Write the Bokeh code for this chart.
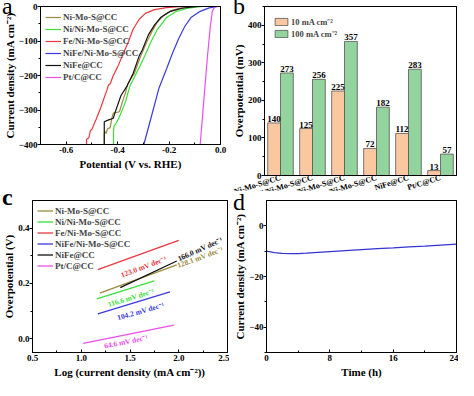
from bokeh.plotting import figure
from bokeh.layouts import row, column
from bokeh.models import (FixedTicker, NumeralTickFormatter, Label, LabelSet, ColumnDataSource,
                          LinearAxis, Div)
from bokeh.transform import dodge
from bokeh.embed import file_html
from bokeh.resources import INLINE

FONT = "Liberation Serif"

samples = ["Ni-Mo-S@CC", "Ni/Ni-Mo-S@CC", "Fe/Ni-Mo-S@CC", "NiFe/Ni-Mo-S@CC", "NiFe@CC", "Pt/C@CC"]
line_colors = ["#9C8A3E", "#3ADF3A", "#E8383F", "#3A3ADF", "#121212", "#EC4EEC"]

# ---------------- (a) LSV polarisation curves ----------------
v_nimos = [-0.08, -0.12, -0.16, -0.19, -0.22, -0.245, -0.265, -0.285, -0.31, -0.335, -0.361, -0.369,
           -0.381, -0.393, -0.417, -0.423, -0.429, -0.44, -0.445, -0.45, -0.452, -0.452]
j_nimos = [0, -1, -5, -12, -25, -45, -70, -100, -143, -194, -224, -249,
           -275, -305, -309, -326, -351, -355, -368, -362, -370, -400]
v_ni = [-0.07, -0.127, -0.174, -0.21, -0.245, -0.269, -0.292, -0.316, -0.352, -0.363, -0.369,
        -0.387, -0.397, -0.407, -0.414, -0.416, -0.416]
j_ni = [0, -5, -15, -32, -66, -100, -139, -177, -230, -258, -275,
        -309, -326, -340, -347, -360, -400]
v_fe = [-0.15, -0.21, -0.257, -0.292, -0.316, -0.340, -0.357, -0.384, -0.40, -0.417, -0.429, -0.436,
        -0.441, -0.453, -0.465, -0.483, -0.488, -0.500, -0.506, -0.512, -0.518, -0.521, -0.521]
j_fe = [0, -3, -9, -20, -37, -66, -100, -147, -175, -200, -224, -228,
        -241, -266, -292, -326, -334, -356, -360, -381, -383, -385, -400]
v_nife_nimos = [-0.01, -0.044, -0.079, -0.115, -0.139, -0.162, -0.186, -0.21, -0.239, -0.262, -0.298]
j_nife_nimos = [0, -4, -14, -32, -58, -92, -134, -181, -236, -300, -400]
v_nife = [-0.09, -0.15, -0.198, -0.233, -0.257, -0.281, -0.304, -0.316, -0.340, -0.363, -0.387,
          -0.411, -0.417, -0.44, -0.452, -0.452]
j_nife = [0, -5, -15, -32, -54, -83, -126, -143, -194, -230, -258,
          -309, -324, -330, -334, -400]
v_ptc = [-0.018, -0.026, -0.032, -0.04, -0.05, -0.061, -0.07, -0.079]
j_ptc = [0, -5, -15, -60, -140, -236, -320, -400]

lsv_v = [v_nimos, v_ni, v_fe, v_nife_nimos, v_nife, v_ptc]
lsv_j = [j_nimos, j_ni, j_fe, j_nife_nimos, j_nife, j_ptc]

# ---------------- (b) overpotentials ----------------
eta_10 = [140, 125, 225, 72, 112, 13]
eta_100 = [273, 256, 357, 182, 283, 57]
bar_legend = ["10 mA cm\u207b\u00b2", "100 mA cm\u207b\u00b2"]

# ---------------- (c) Tafel fits ----------------
tafel_x = [[1.19, 1.98], [1.16, 1.75], [1.17, 2.0], [1.17, 1.91], [1.40, 1.98], [1.02, 1.95]]
tafel_y = [[0.165, 0.267], [0.144, 0.209], [0.25, 0.356], [0.09, 0.169], [0.185, 0.281], [-0.017, 0.049]]
tafel_slope = ["128.1", "116.6", "123.0", "104.2", "166.0", "64.6"]
tafel_label_x = [2.22, 1.51, 1.64, 1.61, 2.22, 1.46]
tafel_label_y = [0.294, 0.148, 0.26, 0.099, 0.324, -0.011]
tafel_label_angle = [0.35, 0.29, 0.36, 0.27, 0.42, 0.2]

# ---------------- (d) stability ----------------
stab_t = [0, 1, 2, 3, 4, 5, 6, 8, 10, 12, 14, 16, 18, 20, 22, 24]
stab_j = [-10.0, -10.6, -10.9, -11.0, -10.95, -10.8, -10.6, -10.2, -9.8, -9.4, -9.0, -8.7, -8.3, -8.0, -7.6, -7.2]

panel_letters = ["a", "b", "c", "d"]


def frame_box(p):
    p.add_layout(LinearAxis(ticker=FixedTicker(ticks=[]), axis_line_color="black",
                            major_label_standoff=0, axis_label_standoff=0), "right")
    p.add_layout(LinearAxis(ticker=FixedTicker(ticks=[]), axis_line_color="black",
                            major_label_standoff=0, axis_label_standoff=0), "above")


def style(p, xlabel, ylabel):
    p.grid.visible = False
    p.outline_line_color = "black"
    p.outline_line_alpha = 1
    p.outline_line_width = 1
    p.background_fill_color = "white"
    p.border_fill_color = "white"
    for ax in (p.xaxis[0], p.yaxis[0]):
        ax.axis_line_color = "black"
        ax.major_label_text_font = FONT
        ax.major_label_text_font_style = "bold"
        ax.major_label_text_font_size = "9px"
        ax.major_label_text_color = "black"
        ax.axis_label_text_font = FONT
        ax.axis_label_text_font_style = "bold"
        ax.axis_label_text_font_size = "11px"
        ax.axis_label_text_color = "black"
        ax.major_tick_line_color = "black"
        ax.minor_tick_line_color = "black"
    p.xaxis[0].axis_label = xlabel
    p.yaxis[0].axis_label = ylabel
    p.xaxis[0].major_tick_in = 3
    p.xaxis[0].major_tick_out = 0
    p.xaxis[0].minor_tick_in = 2
    p.xaxis[0].minor_tick_out = 0
    p.yaxis[0].major_tick_in = 0
    p.yaxis[0].major_tick_out = 3
    p.yaxis[0].minor_tick_in = 0
    p.yaxis[0].minor_tick_out = 2
    p.xaxis[0].major_label_standoff = 2
    p.yaxis[0].major_label_standoff = 0
    p.xaxis[0].axis_label_standoff = 2
    p.yaxis[0].axis_label_standoff = 0


def style_legend(p, row_h, size="9px"):
    lg = p.legend[0]
    lg.location = "top_left"
    lg.background_fill_alpha = 0
    lg.border_line_alpha = 0
    lg.label_text_font = FONT
    lg.label_text_font_style = "bold"
    lg.label_text_font_size = size
    lg.glyph_width = 16
    lg.glyph_height = row_h
    lg.label_height = row_h
    lg.spacing = 0
    lg.padding = 2
    lg.margin = 3
    lg.label_standoff = 2


def letter_div(txt, bold, prev_right, left, top):
    w = 30
    weight = "bold" if bold else "normal"
    html = ('<div style="font-family:\'Liberation Serif\';font-size:24px;line-height:27px;'
            'padding-top:1px;color:black;font-weight:%s;">%s</div>' % (weight, txt))
    ml = left - prev_right
    return Div(text=html, width=w, height=34, margin=(top, -(ml + w), 0, ml))


# ---- panel a ----
pa = figure(width=229, height=190, x_range=(-0.7, 0.0), y_range=(-400, 0),
            output_backend="svg", toolbar_location=None,
            min_border_left=28, min_border_right=9, min_border_top=4, min_border_bottom=28)
for name, col, vv, jj in zip(samples, line_colors, lsv_v, lsv_j):
    pa.line(vv, jj, line_color=col, line_width=1.2, legend_label=name)
style(pa, "Potential (V vs. RHE)", "Current density (mA cm\u207b\u00b2)")
pa.xaxis[0].ticker = FixedTicker(ticks=[-0.6, -0.4, -0.2, 0.0], minor_ticks=[-0.7, -0.5, -0.3, -0.1])
pa.xaxis[0].formatter = NumeralTickFormatter(format="0.0")
pa.yaxis[0].ticker = FixedTicker(ticks=[0, -100, -200, -300, -400], minor_ticks=[-50, -150, -250, -350])
frame_box(pa)
style_legend(pa, 12)

# ---- panel b ----
pb = figure(width=229, height=221, x_range=samples, y_range=(0, 450),
            output_backend="svg", toolbar_location=None,
            min_border_left=35, min_border_right=2, min_border_top=6, min_border_bottom=46)
src_b = ColumnDataSource(dict(cat=samples, e10=eta_10, e100=eta_100,
                              t10=[str(v) for v in eta_10], t100=[str(v) for v in eta_100]))
pb.vbar(x=dodge("cat", -0.2, range=pb.x_range), top="e10", width=0.4, source=src_b,
        fill_color="#FBC7A0", line_color="#555555", line_width=0.8, legend_label=bar_legend[0])
pb.vbar(x=dodge("cat", 0.2, range=pb.x_range), top="e100", width=0.4, source=src_b,
        fill_color="#93D39E", line_color="#555555", line_width=0.8, legend_label=bar_legend[1])
for fld, off in (("10", -0.2), ("100", 0.2)):
    pb.add_layout(LabelSet(x=dodge("cat", off, range=pb.x_range), y="e" + fld, text="t" + fld,
                           source=src_b, text_align="center", text_baseline="bottom", y_offset=1,
                           text_font=FONT, text_font_style="bold", text_font_size="9px",
                           text_color="black"))
style(pb, "", "Overpotential (mV)")
pb.xaxis[0].axis_label = None
pb.xaxis[0].major_label_orientation = 0.3
pb.xaxis[0].major_label_text_font_size = "8px"
pb.xaxis[0].major_label_standoff = 2
pb.xaxis[0].major_tick_in = 0
pb.xaxis[0].major_tick_out = 0
pb.yaxis[0].ticker = FixedTicker(ticks=[0, 100, 200, 300, 400], minor_ticks=[50, 150, 250, 350, 450])
frame_box(pb)
style_legend(pb, 12, "8.5px")
pb.legend[0].glyph_height = 9
pb.legend[0].margin = 6
pb.legend[0].padding = 3

# ---- panel c ----
pc = figure(width=229, height=190, x_range=(0.5, 2.5), y_range=(-0.05, 0.5),
            output_backend="svg", toolbar_location=None,
            min_border_left=22, min_border_right=2, min_border_top=10, min_border_bottom=28)
for name, col, xx, yy in zip(samples, line_colors, tafel_x, tafel_y):
    pc.line(xx, yy, line_color=col, line_width=1.3, legend_label=name)
for col, s, lx, ly, la in zip(line_colors, tafel_slope, tafel_label_x, tafel_label_y, tafel_label_angle):
    pc.add_layout(Label(x=lx, y=ly, text=s + " mV dec\u207b\u00b9", angle=la, text_align="center",
                        text_baseline="middle", text_font=FONT, text_font_style="bold",
                        text_font_size="7.5px", text_color=col))
style(pc, "Log (current density (mA cm\u207b\u00b2))", "Overpotential (V)")
pc.xaxis[0].ticker = FixedTicker(ticks=[0.5, 1.0, 1.5, 2.0, 2.5], minor_ticks=[0.75, 1.25, 1.75, 2.25])
pc.xaxis[0].formatter = NumeralTickFormatter(format="0.0")
pc.yaxis[0].ticker = FixedTicker(ticks=[0.0, 0.2, 0.4], minor_ticks=[0.1, 0.3])
pc.yaxis[0].formatter = NumeralTickFormatter(format="0.0")
frame_box(pc)
style_legend(pc, 11)

# ---- panel d ----
pd_ = figure(width=229, height=190, x_range=(0, 24), y_range=(-50, 10),
             output_backend="svg", toolbar_location=None,
             min_border_left=37, min_border_right=2, min_border_top=10, min_border_bottom=28)
pd_.line(stab_t, stab_j, line_color="#3434D4", line_width=1.2)
style(pd_, "Time (h)", "Current density (mA cm\u207b\u00b2)")
pd_.xaxis[0].ticker = FixedTicker(ticks=[0, 8, 16, 24], minor_ticks=[4, 12, 20])
pd_.yaxis[0].ticker = FixedTicker(ticks=[0, -20, -40], minor_ticks=[-10, -30, -50])
frame_box(pd_)

# panel letters overlaid on the top-left corner of each panel
da = letter_div(panel_letters[0], False, 229, 2, -8)
db = letter_div(panel_letters[1], False, 458, 233, -8)
dc = letter_div(panel_letters[2], True, 229, 2, -7)
dd = letter_div(panel_letters[3], False, 458, 233, -2)

top_row = row(pa, da, pb, db)
bottom_row = row(pc, dc, pd_, dd, margin=(-31, 0, 0, 0))
page = column(top_row, bottom_row)
open("out.html", "w").write(file_html(page, INLINE))
